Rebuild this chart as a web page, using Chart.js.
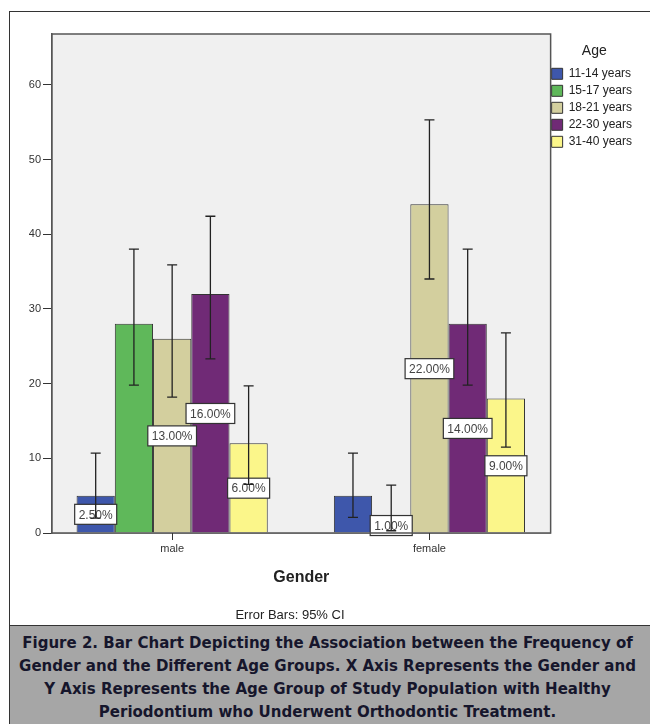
<!DOCTYPE html>
<html>
<head>
<meta charset="utf-8">
<script src="https://cdn.jsdelivr.net/npm/chart.js@4/dist/chart.umd.min.js"></script>
<style>
  html, body { margin: 0; padding: 0; background: #fff; }
  #page { position: relative; width: 650px; height: 724px; overflow: hidden; }
  #frame { position: absolute; left: 9px; top: 11px; width: 660px; height: 740px; border: 1.5px solid #333; box-sizing: border-box; }
  #chart { position: absolute; left: 10px; top: 12px; }
  #note { position: absolute; left: 190px; width: 200px; top: 607px; text-align: center;
          font: 13px "Liberation Sans", Arial, sans-serif; color: #222; }
  #caption { position: absolute; left: 9px; top: 625px; width: 660px; height: 120px; background: #a6a6a6;
             border-top: 1.5px solid #333; border-left: 1.5px solid #333; box-sizing: border-box; }
  #caption p { margin: 0; position: absolute; left: 0; width: 635px; top: 5px; text-align: center; white-space: nowrap;
               font: bold 16.7px/23px "DejaVu Sans Condensed", "DejaVu Sans", sans-serif; font-stretch: condensed;
               color: #16162c; }
</style>
</head>
<body>
<div id="page">
  <div id="frame"></div>
  <canvas id="chart" width="640" height="612"></canvas>
  <div id="note">Error Bars: 95% CI</div>
  <div id="caption"><p>Figure 2. Bar Chart Depicting the Association between the Frequency of<br>Gender and the Different Age Groups. X Axis Represents the Gender and<br>Y Axis Represents the Age Group of Study Population with Healthy<br>Periodontium who Underwent Orthodontic Treatment.</p></div>
</div>
<script>
const genders = ['male', 'female'];
const ageGroups = ['11-14 years', '15-17 years', '18-21 years', '22-30 years', '31-40 years'];
const ageColors = ['#3e57ab', '#5fb85a', '#d3cf9e', '#702a76', '#fbf68a'];

// counts per gender (male, female)
const age11to14 = [5, 5];
const age15to17 = [28, 2];
const age18to21 = [26, 44];
const age22to30 = [32, 28];
const age31to40 = [12, 18];

// 95% CI bounds
const ciLow11to14 = [2.0, 2.1];
const ciHigh11to14 = [10.7, 10.7];
const ciLow15to17 = [19.8, 0.3];
const ciHigh15to17 = [38.0, 6.4];
const ciLow18to21 = [18.2, 34.0];
const ciHigh18to21 = [35.9, 55.3];
const ciLow22to30 = [23.3, 19.8];
const ciHigh22to30 = [42.4, 38.0];
const ciLow31to40 = [6.5, 11.5];
const ciHigh31to40 = [19.7, 26.8];

// percentage labels (null = not shown)
const pct11to14 = [2.5, null];
const pct15to17 = [null, 1];
const pct18to21 = [13, 22];
const pct22to30 = [16, 14];
const pct31to40 = [6, 9];

const yTicks = [0, 10, 20, 30, 40, 50, 60];

const counts = [age11to14, age15to17, age18to21, age22to30, age31to40];
const ciLow = [ciLow11to14, ciLow15to17, ciLow18to21, ciLow22to30, ciLow31to40];
const ciHigh = [ciHigh11to14, ciHigh15to17, ciHigh18to21, ciHigh22to30, ciHigh31to40];
const pcts = [pct11to14, pct15to17, pct18to21, pct22to30, pct31to40];

const FONT = '"Liberation Sans", Arial, sans-serif';

const plotFrame = {
    id: 'plotFrame',
    afterLayout(chart) {
        // pull the legend flush against the plot frame
        if (chart.legend) {
            chart.legend.left -= 4;
            chart.legend.right -= 4;
        }
    },
    beforeDatasetsDraw(chart) {
        const {ctx, chartArea: a} = chart;
        ctx.save();
        ctx.fillStyle = '#f0f0f0';
        ctx.fillRect(a.left, a.top, a.right - a.left, a.bottom - a.top);
        ctx.restore();
    },
    afterDatasetsDraw(chart) {
        const {ctx, chartArea: a, scales: {x, y}} = chart;
        ctx.save();

        // percentage labels
        ctx.font = '12px ' + FONT;
        ctx.textAlign = 'center';
        ctx.textBaseline = 'middle';
        pcts.forEach((arr, i) => {
            const meta = chart.getDatasetMeta(i);
            arr.forEach((p, j) => {
                if (p === null) return;
                const txt = p.toFixed(2) + '%';
                const bx = meta.data[j].x;
                const by = y.getPixelForValue(p);
                const w = ctx.measureText(txt).width + 8;
                const h = 20;
                ctx.fillStyle = '#fff';
                ctx.fillRect(bx - w / 2, by - h / 2, w, h);
                ctx.strokeStyle = '#333';
                ctx.lineWidth = 1.2;
                ctx.strokeRect(bx - w / 2, by - h / 2, w, h);
                ctx.fillStyle = '#444';
                ctx.fillText(txt, bx, by + 1);
            });
        });

        // error bars
        ctx.strokeStyle = '#222';
        ctx.lineWidth = 1.3;
        ciLow.forEach((lows, i) => {
            const meta = chart.getDatasetMeta(i);
            lows.forEach((lo, j) => {
                const bx = meta.data[j].x;
                const y1 = y.getPixelForValue(lo);
                const y2 = y.getPixelForValue(ciHigh[i][j]);
                ctx.beginPath();
                ctx.moveTo(bx, y1); ctx.lineTo(bx, y2);
                ctx.moveTo(bx - 5, y1); ctx.lineTo(bx + 5, y1);
                ctx.moveTo(bx - 5, y2); ctx.lineTo(bx + 5, y2);
                ctx.stroke();
            });
        });

        // frame and x tick marks
        ctx.strokeStyle = '#555';
        ctx.lineWidth = 1.5;
        ctx.strokeRect(a.left, a.top, a.right - a.left, a.bottom - a.top);
        ctx.strokeStyle = '#333';
        ctx.lineWidth = 1;
        x.ticks.forEach(t => {
            const px = Math.round(x.getPixelForValue(t.value)) + 0.5;
            ctx.beginPath();
            ctx.moveTo(px, a.bottom);
            ctx.lineTo(px, a.bottom + 7);
            ctx.stroke();
        });
        ctx.restore();
    }
};

new Chart(document.getElementById('chart').getContext('2d'), {
    type: 'bar',
    data: {
        datasets: ageGroups.map((name, i) => ({
            label: name,
            data: counts[i].map((v, j) => ({x: j, y: v})),
            backgroundColor: ageColors[i],
            borderColor: '#333',
            borderWidth: 1,
            categoryPercentage: 0.743,
            barPercentage: 1
        }))
    },
    options: {
        responsive: false,
        animation: false,
        layout: {padding: {top: 22, left: 0, right: 4, bottom: 0}},
        plugins: {
            tooltip: {enabled: false},
            legend: {
                position: 'right',
                align: 'start',
                title: {display: true, text: 'Age', color: '#222', font: {family: FONT, size: 14}, padding: {top: 10, bottom: 2}},
                labels: {
                    boxWidth: 11, boxHeight: 11, padding: 5, color: '#333',
                    font: {family: FONT, size: 12},
                    generateLabels: (chart) => ageGroups.map((name, i) => ({
                        text: name, fillStyle: ageColors[i], strokeStyle: '#333', lineWidth: 1, datasetIndex: i
                    }))
                }
            }
        },
        scales: {
            x: {
                type: 'linear',
                min: -0.467,
                max: 1.471,
                offset: false,
                afterBuildTicks: (s) => { s.ticks = genders.map((g, j) => ({value: j})); },
                grid: {drawOnChartArea: false, drawTicks: true, tickLength: 7, color: '#333', offset: false},
                border: {display: true, color: '#555', width: 1.5},
                ticks: {color: '#333', font: {family: FONT, size: 11}, padding: 2, callback: (v) => genders[v]},
                title: {display: true, text: 'Gender', color: '#222', font: {family: FONT, size: 16, weight: 'bold'}, padding: {top: 0, bottom: 37}},
                afterFit: (s) => { s.height = 91; }
            },
            y: {
                min: 0,
                max: 66.8,
                afterBuildTicks: (s) => { s.ticks = yTicks.map(v => ({value: v})); },
                grid: {drawOnChartArea: false, drawTicks: true, tickLength: 9, color: '#333'},
                border: {display: true, color: '#555', width: 1.5},
                ticks: {color: '#333', font: {family: FONT, size: 11}, padding: 2},
                afterFit: (s) => { s.width = 42; }
            }
        }
    },
    plugins: [plotFrame]
});
</script>
</body>
</html>
